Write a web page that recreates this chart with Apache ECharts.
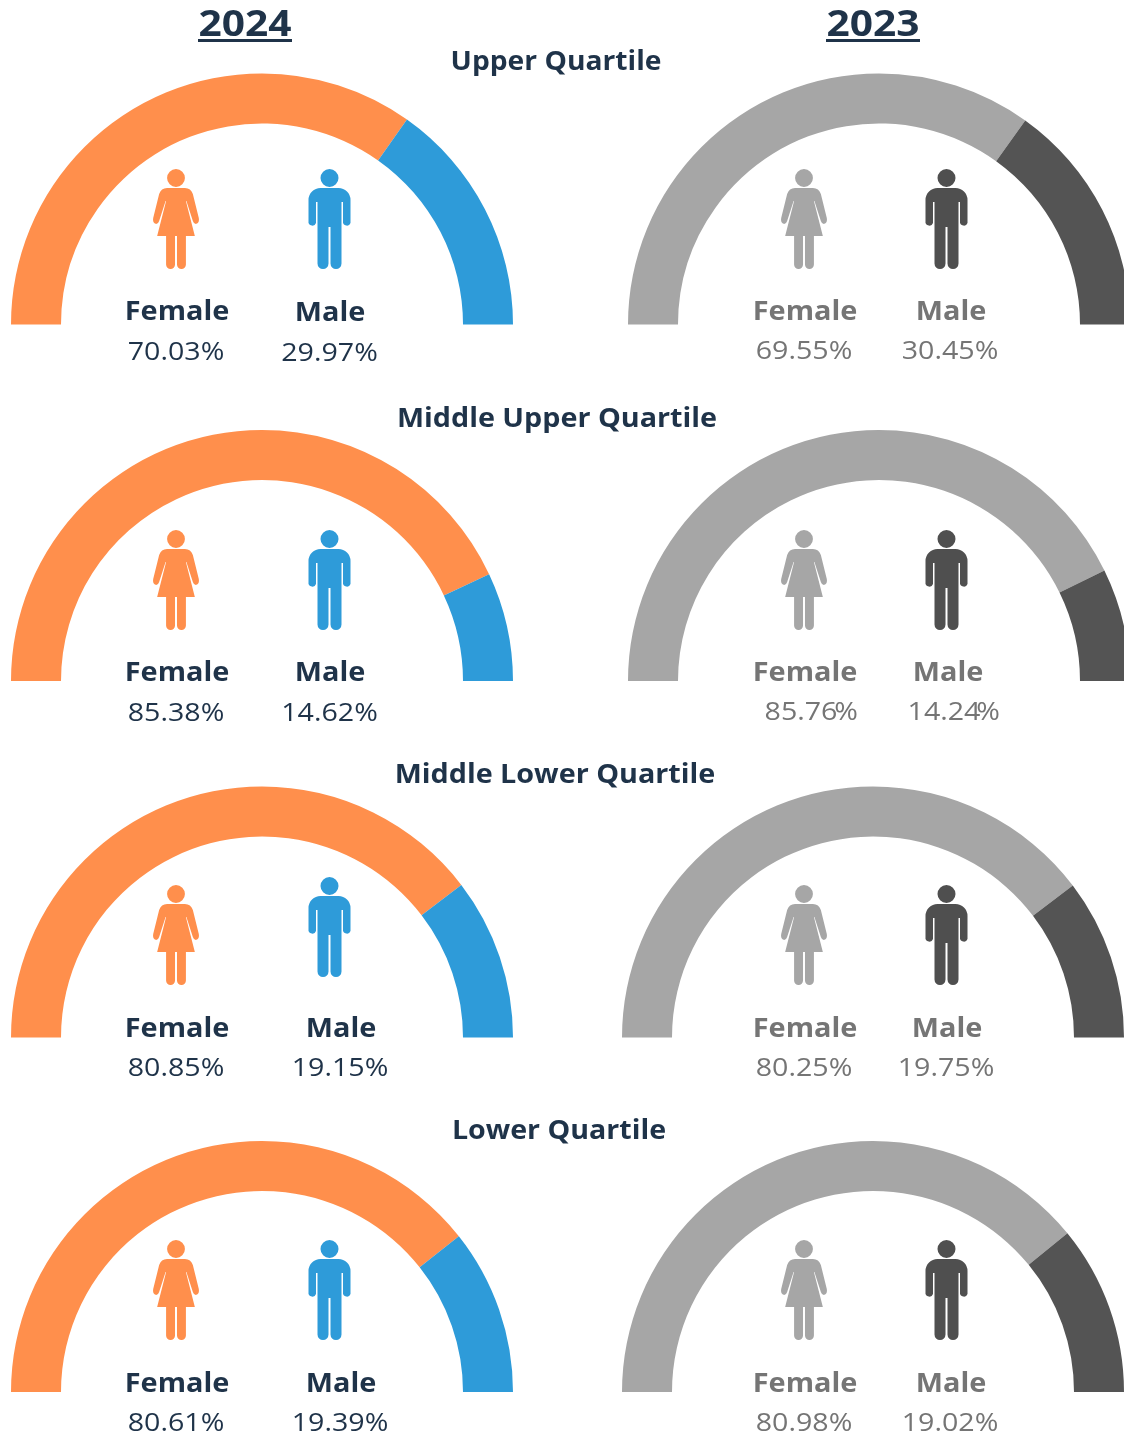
<!DOCTYPE html>
<html>
<head>
<meta charset="utf-8">
<title>Gender split by pay quartile</title>
<style>
  html, body { margin: 0; padding: 0; background: #fff; }
  #chart { width: 1124px; height: 1435px; }
</style>
<script src="https://cdn.jsdelivr.net/npm/echarts@6/dist/echarts.min.js"></script>
</head>
<body>
<div id="chart"></div>
<script>
const years = ['2024', '2023']
const quartiles = ['Upper Quartile', 'Middle Upper Quartile', 'Middle Lower Quartile', 'Lower Quartile']
const genders = ['Female', 'Male']

// printed percentages
const female2024 = [70.03, 85.38, 80.85, 80.61]
const male2024 = [29.97, 14.62, 19.15, 19.39]
const female2023 = [69.55, 85.76, 80.25, 80.98]
const male2023 = [30.45, 14.24, 19.75, 19.02]

// the arcs in the picture do not quite follow the printed numbers, so these are read off the arcs
const femaleArc2024 = [69.6, 86, 79.2, 78.7]
const femaleArc2023 = [69.8, 85.5, 79.3, 78.2]

const FONT = '"Open Sans", sans-serif'
const NAVY = '#1f3349'
const GREY_TEXT = '#757575'
const themes = [
  { female: '#ff8f4c', male: '#2e9bd9', iconFemale: '#ff8f4c', iconMale: '#2e9bd9', text: NAVY },
  { female: '#a6a6a6', male: '#545454', iconFemale: '#a6a6a6', iconMale: '#4f4f4f', text: GREY_TEXT },
]

// layout, per row
const baseY = [324.5, 681, 1037.5, 1392]
const titleX = [556, 557, 555, 559]
const titleY = [63, 420, 776, 1132]
const titleStretch = [1.085, 1.105, 1.105, 1.1]
const centerX = [[262, 262, 262, 262], [879, 879, 873, 873]]
const iconY = [169, 530, 885, 1240]
const maleIconY2024 = [169, 530, 877, 1240]
const nameX = [[[177, 330], [177, 330], [177, 341], [177, 341]], [[805, 951], [805, 948], [805, 947], [805, 951]]]
const pctX = [[[176, 329.5], [176, 329.5], [176, 340], [176, 340]], [[804, 950], [811, 953], [804, 946], [804, 950]]]
const nameY = [[313, 674, 1030, 1385], [313, 674, 1030, 1385]]
const maleNameY2024 = [314, 674, 1030, 1385]
const pctY = [[353, 714, 1069, 1424], [352, 713, 1069, 1424]]
const malePctY2024 = [354, 714, 1069, 1424]

const HEAD_F = 'M32,9A9,9 0 1 1 14,9A9,9 0 1 1 32,9Z'
const FEMALE_ICON = HEAD_F + 'M14,19H32Q38,19 40,25L46,49Q47,54 43,55Q41,55 40,52L33.5,32L33,32L42,67H33V95.5A4.5,4.5 0 0 1 24,95.5V67H22V95.5A4.5,4.5 0 0 1 13,95.5V67H4L13,32L12.5,32L6,52Q5,55 3,55Q-1,54 0,49L6,25Q8,19 14,19Z'
const HEAD_M = 'M30,9A9,9 0 1 1 12,9A9,9 0 1 1 30,9Z'
const MALE_ICON = HEAD_M + 'M12,19H30A12,12 0 0 1 42,31V54A4,4 0 0 1 34.5,54V33H33V94.5A5.5,5.5 0 0 1 22,94.5V58H20V94.5A5.5,5.5 0 0 1 9,94.5V33H7.5V54A4,4 0 0 1 0,54V31A12,12 0 0 1 12,19Z'

const female = [female2024, female2023]
const male = [male2024, male2023]
const femaleArc = [femaleArc2024, femaleArc2023]

const text = (str, x, y, size, weight, fill, stretch) => ({
  type: 'text',
  silent: true,
  x,
  y,
  scaleX: stretch,
  style: { text: str, x: 0, y: 0, font: `${weight} ${size}px ${FONT}`, fill, align: 'center', verticalAlign: 'middle' },
})

const series = []
const graphics = []
const icons = []

years.forEach((year, c) => {
  const theme = themes[c]
  const yearX = c === 0 ? 245 : 873
  graphics.push(text(year, yearX, 26, 36, 'bold', NAVY, 1.13))
  graphics.push({ type: 'rect', silent: true, shape: { x: yearX - 47, y: 39, width: 94, height: 3 }, style: { fill: NAVY } })

  quartiles.forEach((q, r) => {
    series.push({
      type: 'pie',
      name: `${q} ${year}`,
      silent: true,
      animation: false,
      center: [centerX[c][r], baseY[r]],
      radius: [201, 251],
      startAngle: 180,
      endAngle: 360,
      label: { show: false },
      labelLine: { show: false },
      data: [
        { name: genders[0], value: femaleArc[c][r], itemStyle: { color: theme.female } },
        { name: genders[1], value: 100 - femaleArc[c][r], itemStyle: { color: theme.male } },
      ],
    })

    const fIconX = c === 0 ? 153 : 781
    const mIconX = c === 0 ? 308.5 : 925.5
    icons.push({ pathData: FEMALE_ICON, x: fIconX, y: iconY[r], width: 46, fill: theme.iconFemale })
    icons.push({ pathData: MALE_ICON, x: mIconX, y: c === 0 ? maleIconY2024[r] : iconY[r], width: 42, fill: theme.iconMale })

    graphics.push(text(genders[0], nameX[c][r][0], nameY[c][r], 26, 'bold', theme.text, 1.11))
    graphics.push(text(genders[1], nameX[c][r][1], c === 0 ? maleNameY2024[r] : nameY[c][r], 26, 'bold', theme.text, 1.11))

    const mPctY = c === 0 ? malePctY2024[r] : pctY[c][r]
    if (c === 1 && r === 1) {
      // this panel has the % sign pushed into the digits
      graphics.push(text(female[c][r].toFixed(2), pctX[c][r][0] - 10, pctY[c][r], 26, 'normal', theme.text, 1.1))
      graphics.push(text('%', 846, pctY[c][r], 26, 'normal', theme.text, 1.1))
      graphics.push(text(male[c][r].toFixed(2), pctX[c][r][1] - 9, mPctY, 26, 'normal', theme.text, 1.1))
      graphics.push(text('%', 988, mPctY, 26, 'normal', theme.text, 1.1))
    } else {
      graphics.push(text(female[c][r].toFixed(2) + '%', pctX[c][r][0], pctY[c][r], 26, 'normal', theme.text, 1.1))
      graphics.push(text(male[c][r].toFixed(2) + '%', pctX[c][r][1], mPctY, 26, 'normal', theme.text, 1.1))
    }
  })
})

quartiles.forEach((q, r) => {
  graphics.push(text(q, titleX[r], titleY[r], 26, 'bold', NAVY, titleStretch[r]))
})

// person icons go through a custom series, the graphic component has no free path type
series.push({
  type: 'custom',
  coordinateSystem: 'none',
  silent: true,
  animation: false,
  data: icons.map((d, i) => [i]),
  renderItem: (params) => {
    const d = icons[params.dataIndex]
    return {
      type: 'path',
      shape: { pathData: d.pathData, x: d.x, y: d.y, width: d.width, height: 100, layout: 'cover' },
      style: { fill: d.fill },
    }
  },
})

const myChart = echarts.init(document.getElementById('chart'), null, { renderer: 'canvas' })
myChart.setOption({
  animation: false,
  backgroundColor: '#fff',
  series,
  graphic: { elements: graphics },
})
</script>
</body>
</html>
